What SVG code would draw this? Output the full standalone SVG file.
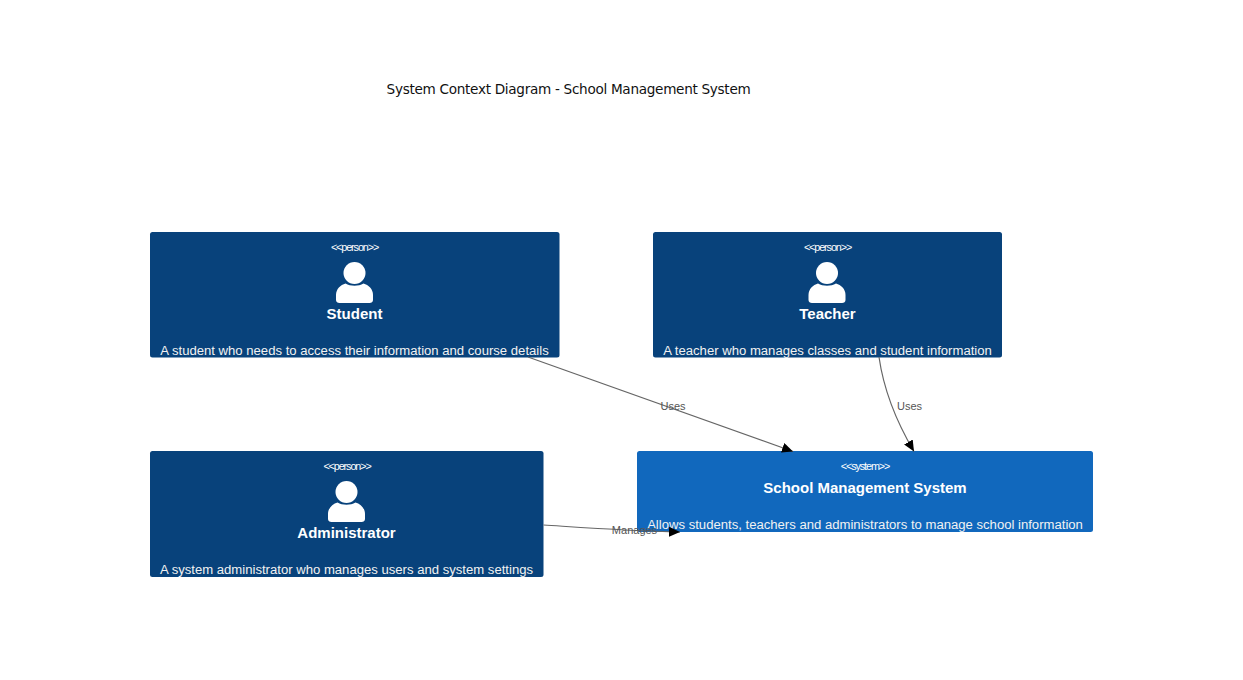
<svg xmlns="http://www.w3.org/2000/svg" width="1243" height="680" viewBox="0 0 1243 680">
<style>
text{font-family:"Liberation Sans",Arial,sans-serif;text-anchor:middle}
.p{fill:#08427b}.s{fill:#1168bd}
.ty{fill:#fff;font-size:10.8px;letter-spacing:-1.1px}
.nm{fill:#fff;font-size:15px;font-weight:bold}
.de{fill:#f2f2f2;font-size:13.12px}
.lb{fill:#555;font-size:11px}
.ln{fill:none;stroke:#666;stroke-width:1.2}
.ic{fill:#fff}
</style>
<defs>
<marker id="ah" markerUnits="userSpaceOnUse" markerWidth="12" markerHeight="10" refX="11" refY="5" orient="auto"><path d="M0 0L11 5L0 10z" fill="#000"/></marker>
<g id="person"><circle cx="0" cy="-30" r="11" class="ic"/><path class="ic" d="M-18.500-3V-8C-18.500-14-14-18-9-19.500C-4-16.500 4-16.500 9-19.500C14-18 18.500-14 18.500-8V-3C18.500-1 17 0 15 0H-15C-17 0-18.500-1-18.500-3z"/></g>
</defs>
<text id="title" x="568.500" y="93.500" style="font-family:'DejaVu Sans',sans-serif;font-size:13.600px;letter-spacing:-.3px" fill="#111">System Context Diagram - School Management System</text>
<g id="student"><rect class="p" x="150" y="232" width="409.500" height="125.500" rx="2.500"/><text class="ty" x="354.500" y="250.500">&lt;&lt;person&gt;&gt;</text><use href="#person" x="354.500" y="303"/><text class="nm" x="354.500" y="318.500">Student</text><text class="de" x="354.500" y="354.500">A student who needs to access their information and course details</text></g>
<g id="teacher"><rect class="p" x="653" y="232" width="349" height="125.500" rx="2.500"/><text class="ty" x="827.500" y="250.500">&lt;&lt;person&gt;&gt;</text><use href="#person" x="827" y="303"/><text class="nm" x="827.500" y="318.500">Teacher</text><text class="de" x="827.500" y="354.500">A teacher who manages classes and student information</text></g>
<g id="administrator"><rect class="p" x="150" y="451" width="393.500" height="126" rx="2.500"/><text class="ty" x="347" y="470">&lt;&lt;person&gt;&gt;</text><use href="#person" x="346.500" y="522"/><text class="nm" x="346.500" y="538">Administrator</text><text class="de" x="346.500" y="574">A system administrator who manages users and system settings</text></g>
<g id="system"><rect class="s" x="637" y="451" width="456" height="81" rx="2.500"/><text class="ty" x="865" y="470">&lt;&lt;system&gt;&gt;</text><text class="nm" x="865" y="493">School Management System</text><text class="de" x="865" y="529">Allows students, teachers and administrators to manage school information</text></g>
<g id="connectors">
<path class="ln" marker-end="url(#ah)" d="M528 357L793 451.500"/>
<path class="ln" marker-end="url(#ah)" d="M879 357C884 392 896 421 914 451.500"/>
<path class="ln" marker-end="url(#ah)" d="M543.500 525C590 528 630 531 680 532"/>
<text class="lb" x="673" y="409.500">Uses</text>
<text class="lb" x="909.500" y="409.500">Uses</text>
<text class="lb" x="634.500" y="534">Manages</text>
</g>
</svg>
